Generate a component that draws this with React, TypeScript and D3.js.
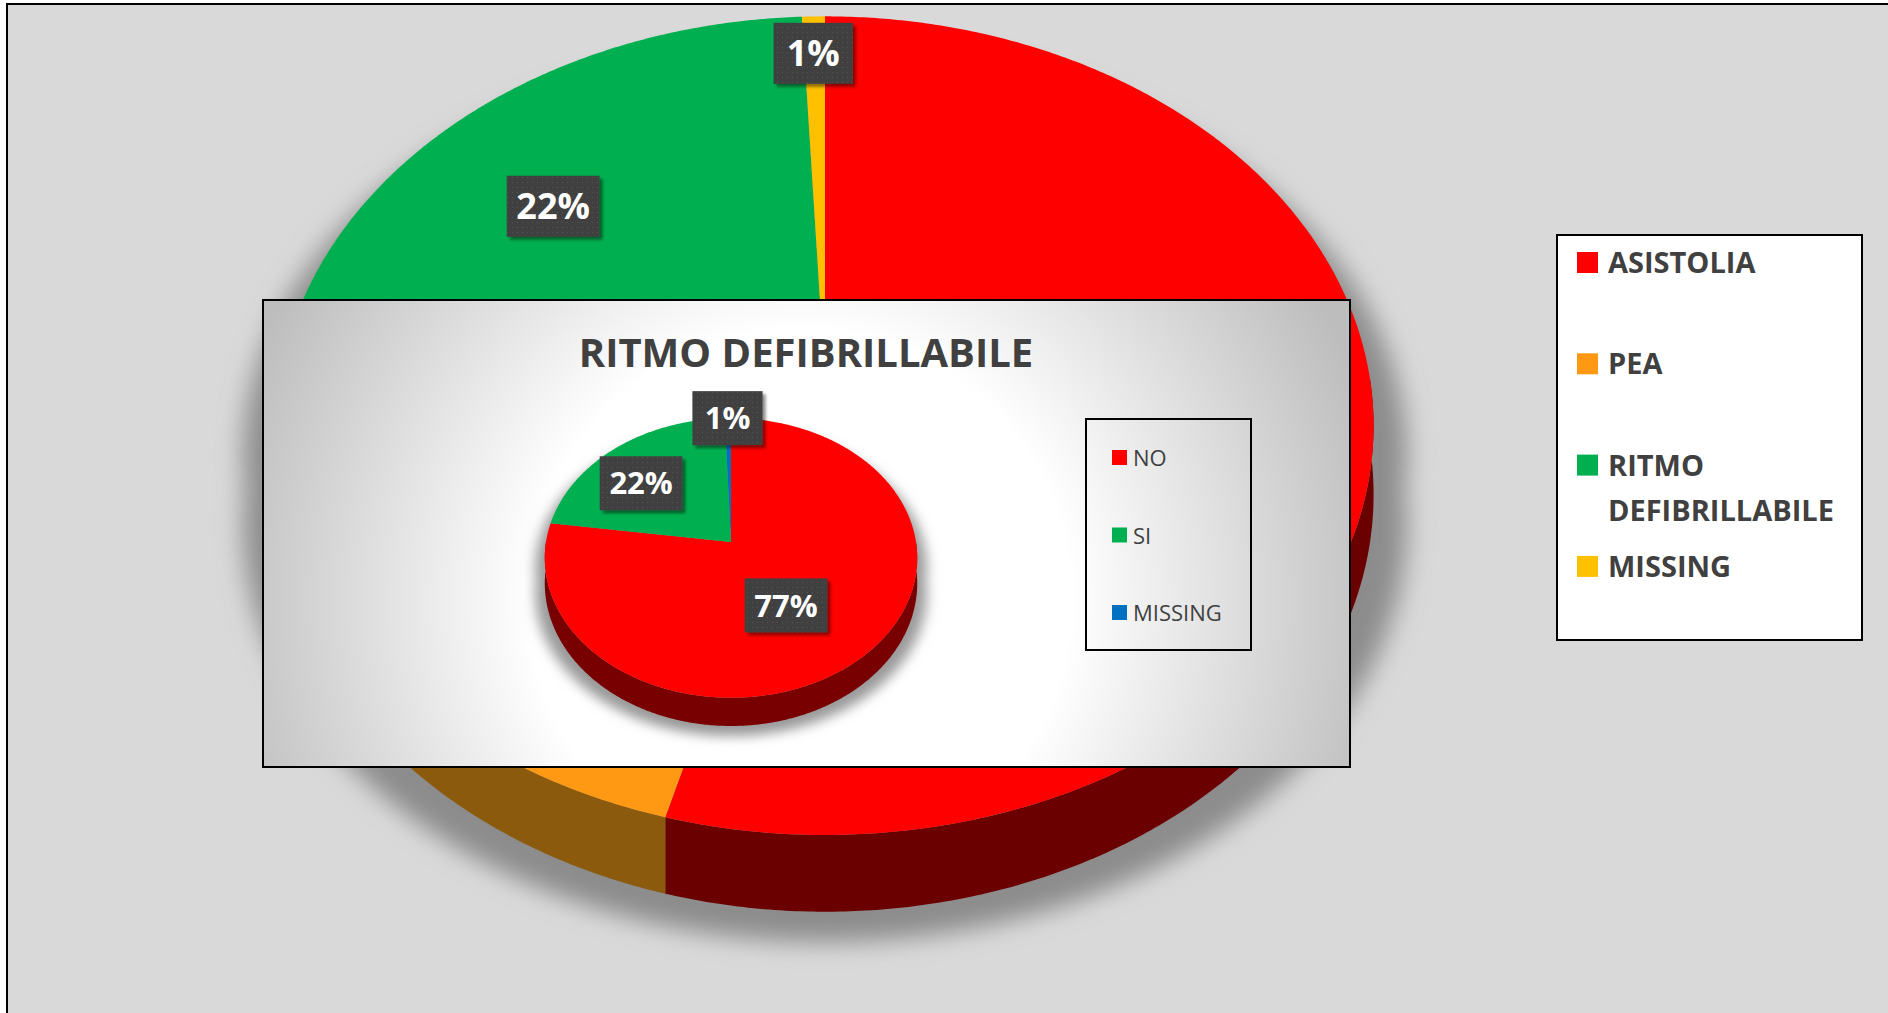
import React from 'react'
import * as d3 from 'd3'

// outer chart
const mainLabels = ['ASISTOLIA', 'PEA', 'RITMO DEFIBRILLABILE', 'MISSING']
const mainValues = [54.2, 22.8, 22.25, 0.75]
const mainColors = ['#ff0000', '#ff9914', '#00b050', '#ffc000']
const mainDark = ['#6b0000', '#8c5a0c', '#005a2b', '#8a6900']

// inset chart
const insetTitle = 'RITMO DEFIBRILLABILE'
const insetLabels = ['NO', 'SI', 'MISSING']
const insetValues = [77.2, 22.2, 0.6]
const insetColors = ['#ff0000', '#00b050', '#0070c0']
const insetDark = ['#780000', '#005a2b', '#003a66']

const W = 1888
const H = 1013
const FONT = "'Open Sans', 'Noto Sans', sans-serif"
const TEXT = '#404040'

type Geo = { cx: number; cy: number; rx: number; ry: number; p: number; depth: number }

const bigPie: Geo = { cx: 825, cy: 379, rx: 545, ry: 404, p: 0.114, depth: 68 }
const smallPie: Geo = { cx: 731, cy: 542, rx: 185, ry: 138, p: 0.114, depth: 25 }

const line = d3.line()
const pct = d3.format('.0%')

// perspective projection of a point on the pie disc (t: 0 centre .. 1 rim)
function proj(g: Geo, t: number, ang: number, z = 0): [number, number] {
  const a = t * Math.sin(ang)
  const b = -t * Math.cos(ang)
  const w = 1 - g.p * b
  return [g.cx + (g.rx * a) / w, g.cy + (g.ry * b + z) / w]
}

function rim(g: Geo, a0: number, a1: number, z = 0): [number, number][] {
  const n = Math.max(2, Math.ceil(Math.abs(a1 - a0) / (Math.PI / 360)))
  return d3.range(n + 1).map(i => proj(g, 1, a0 + ((a1 - a0) * i) / n, z))
}

function wall(g: Geo, a0: number, a1: number) {
  const s = Math.max(a0, Math.PI / 2)
  const e = Math.min(a1, Math.PI * 1.5)
  if (e <= s) return null
  return line([...rim(g, s, e), ...rim(g, s, e, g.depth).reverse()]) + 'Z'
}

// label anchor on the projected (screen) ellipse of the top face
function labelPos(g: Geo, t: number, ang: number): [number, number] {
  const top = proj(g, 1, 0)[1]
  const bottom = proj(g, 1, Math.PI)[1]
  const ey = (top + bottom) / 2
  const ery = (bottom - top) / 2
  const erx = g.rx / Math.sqrt(1 - g.p * g.p)
  return [g.cx + erx * t * Math.sin(ang), ey - ery * t * Math.cos(ang)]
}

const textW = (s: string, size: number) =>
  d3.sum(s.split(''), c => (c === '%' ? 0.88 : 0.572)) * size

type PieProps = {
  g: Geo
  values: number[]
  colors: string[]
  dark: string[]
  font: number
  boxH: number
  tLarge: number
  tMid: number
  tSmall: number
  shadowId: string
  shadowDy: number
  shadowSx: number
  shadowFill: string
}

function Pie3D(props: PieProps) {
  const { g, values, colors, dark, font, boxH, tLarge, tMid, tSmall } = props
  const arcs = d3.pie<number>().sort(null).value(d => d)(values)
  const total = d3.sum(values)
  const full = line(rim(g, 0, Math.PI * 2)) + 'Z'
  const fullBottom = line(rim(g, 0, Math.PI * 2, g.depth)) + 'Z'
  const band = wall(g, 0, Math.PI * 2)

  return (
    <g>
      <g
        filter={`url(#${props.shadowId})`}
        fill={props.shadowFill}
        transform={`translate(${g.cx},${props.shadowDy}) scale(${props.shadowSx},1) translate(${-g.cx},0)`}
      >
        <path d={full} />
        <path d={fullBottom} />
        {band && <path d={band} />}
      </g>
      {arcs.map((a, i) => {
        const d = wall(g, a.startAngle, a.endAngle)
        return d ? <path key={'w' + i} d={d} fill={dark[i]} /> : null
      })}
      {arcs.map((a, i) => (
        <path
          key={'t' + i}
          d={line([proj(g, 0, 0), ...rim(g, a.startAngle, a.endAngle)]) + 'Z'}
          fill={colors[i]}
        />
      ))}
      {arcs.map((a, i) => {
        const share = a.value / total
        const t = share > 0.5 ? tLarge : share < 0.05 ? tSmall : tMid
        const [x, y] = labelPos(g, t, (a.startAngle + a.endAngle) / 2)
        const label = pct(share)
        const bw = Math.max(textW(label, font) + 20, boxH * 1.3)
        return (
          <g key={'l' + i}>
            <rect
              x={x - bw / 2}
              y={y - boxH / 2}
              width={bw}
              height={boxH}
              fill="url(#dots)"
              filter="url(#labelShadow)"
            />
            <text
              x={x}
              y={y + font * 0.36}
              textAnchor="middle"
              fill="#fff"
              fontWeight="bold"
              fontSize={font}
              fontFamily={FONT}
            >
              {label}
            </text>
          </g>
        )
      })}
    </g>
  )
}

export default function App() {
  const legendStep = 101.3
  const insetStep = 77.5

  return (
    <svg
      width={W}
      height={H}
      style={{ position: 'absolute', left: 0, top: 0, background: '#fff' }}
    >
      <defs>
        <filter id="blurBig" x="-20%" y="-20%" width="140%" height="140%">
          <feGaussianBlur stdDeviation="12" />
        </filter>
        <filter id="blurSmall" x="-20%" y="-20%" width="140%" height="140%">
          <feGaussianBlur stdDeviation="6" />
        </filter>
        <filter id="labelShadow" x="-20%" y="-20%" width="150%" height="150%">
          <feDropShadow dx="3" dy="3" stdDeviation="1.5" floodColor="#000" floodOpacity="0.45" />
        </filter>
        <pattern id="dots" width="5" height="5" patternUnits="userSpaceOnUse">
          <rect width="5" height="5" fill="#404040" />
          <circle cx="2.5" cy="2.5" r="0.6" fill="#575757" />
        </pattern>
        <radialGradient id="insetBg" gradientUnits="userSpaceOnUse" cx={800} cy={600} r={600}>
          <stop offset="0" stopColor="#ffffff" />
          <stop offset="0.45" stopColor="#ffffff" />
          <stop offset="1" stopColor="#bdbdbd" />
        </radialGradient>
      </defs>

      <rect x={7} y={4} width={W + 20} height={H + 20} fill="#d9d9d9" stroke="#000" strokeWidth={2} />

      <Pie3D
        g={bigPie}
        values={mainValues}
        colors={mainColors}
        dark={mainDark}
        font={36}
        boxH={61}
        tLarge={0.5}
        tMid={0.73}
        tSmall={0.91}
        shadowId="blurBig"
        shadowDy={30}
        shadowSx={1.06}
        shadowFill="#8c8c8c"
      />

      {/* inset chart */}
      <rect x={263} y={300} width={1087} height={467} fill="url(#insetBg)" stroke="#000" strokeWidth={2} />
      <text
        x={806}
        y={367}
        textAnchor="middle"
        fontWeight="bold"
        fontSize={40}
        fontFamily={FONT}
        fill={TEXT}
      >
        {insetTitle}
      </text>
      <Pie3D
        g={smallPie}
        values={insetValues}
        colors={insetColors}
        dark={insetDark}
        font={31}
        boxH={54}
        tLarge={0.45}
        tMid={0.72}
        tSmall={1.0}
        shadowId="blurSmall"
        shadowDy={10}
        shadowSx={1.05}
        shadowFill="#9a9a9a"
      />
      <rect x={1086} y={419} width={165} height={231} fill="none" stroke="#000" strokeWidth={2} />
      {insetLabels.map((l, i) => (
        <g key={l} transform={`translate(1112,${450 + i * insetStep})`}>
          <rect width={15} height={15} fill={insetColors[i]} />
          <text x={21} y={16} fontSize={22} fontFamily={FONT} fill={TEXT}>
            {l}
          </text>
        </g>
      ))}

      {/* main legend */}
      <rect x={1557} y={235} width={305} height={405} fill="#fff" stroke="#000" strokeWidth={2} />
      {mainLabels.map((l, i) => (
        <g key={l} transform={`translate(1577,${252 + i * legendStep})`}>
          <rect width={21} height={21} fill={mainColors[i]} />
          <text fontSize={29} fontWeight="bold" fontFamily={FONT} fill={TEXT}>
            {l.split(' ').map((w, j) => (
              <tspan key={j} x={31} y={21 + j * 45}>
                {w}
              </tspan>
            ))}
          </text>
        </g>
      ))}
    </svg>
  )
}
